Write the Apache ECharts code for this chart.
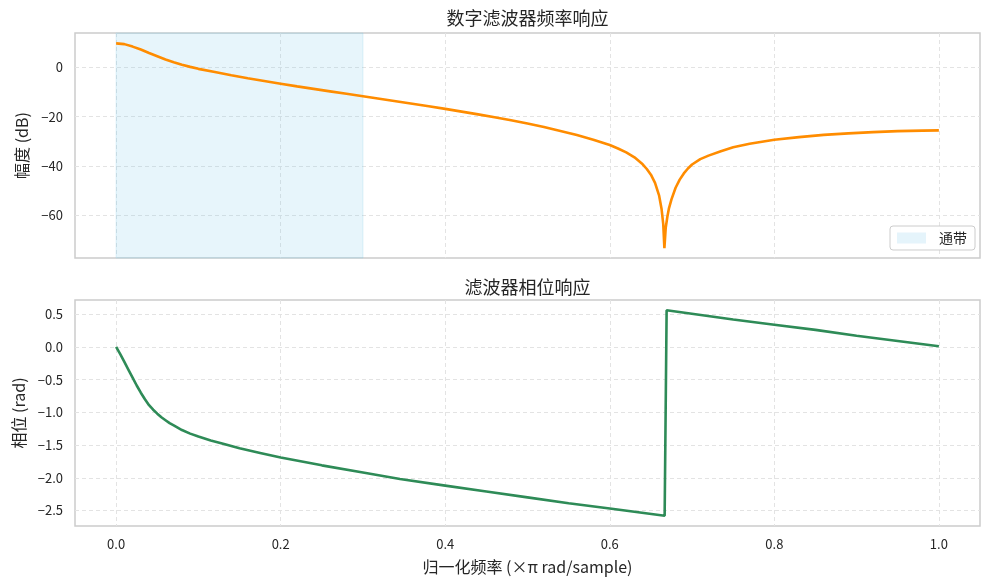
<!DOCTYPE html>
<html><head><meta charset="utf-8">
<script src="https://cdn.jsdelivr.net/npm/echarts@6/dist/echarts.min.js"></script>
<style>html,body{margin:0;padding:0;background:#fff}#c{width:991px;height:583px}</style>
</head><body><div id="c"></div>
<script>
const FONT = '"Noto Sans CJK SC", "DejaVu Sans", sans-serif';
const TXT = '#262626';

// normalized frequency (x pi rad/sample) and magnitude (dB)
const magFreq = [0, 0.01, 0.02, 0.03, 0.04, 0.05, 0.06, 0.07, 0.08, 0.09, 0.10, 0.12, 0.14, 0.16, 0.18, 0.20, 0.22, 0.24, 0.26, 0.28, 0.30, 0.32, 0.34, 0.36, 0.38, 0.40, 0.42, 0.44, 0.46, 0.48, 0.50, 0.52, 0.54, 0.56, 0.58, 0.60, 0.61, 0.62, 0.63, 0.64, 0.645, 0.65, 0.655, 0.66, 0.663, 0.665, 0.6664, 0.668, 0.670, 0.672, 0.675, 0.68, 0.685, 0.69, 0.695, 0.70, 0.71, 0.72, 0.735, 0.75, 0.77, 0.80, 0.83, 0.86, 0.89, 0.92, 0.95, 0.98, 1.0];
const magDb = [9.6, 9.3, 8.3, 7.1, 5.7, 4.4, 3.1, 2.0, 1.0, 0.1, -0.7, -2.0, -3.3, -4.5, -5.6, -6.7, -7.8, -8.8, -9.8, -10.8, -11.8, -12.8, -13.8, -14.8, -15.8, -16.9, -18.0, -19.1, -20.3, -21.5, -22.8, -24.2, -25.8, -27.5, -29.4, -31.5, -32.9, -34.5, -36.5, -39.3, -41.2, -43.5, -46.8, -52.0, -57.5, -63.5, -73.2, -65.0, -60.5, -57.0, -53.5, -48.8, -45.5, -43.0, -41.0, -39.4, -37.2, -35.8, -34.0, -32.4, -31.0, -29.4, -28.3, -27.4, -26.8, -26.3, -25.9, -25.7, -25.6];

// normalized frequency and phase (rad)
const phaseFreq = [0, 0.005, 0.01, 0.015, 0.02, 0.025, 0.03, 0.035, 0.04, 0.045, 0.05, 0.055, 0.06, 0.065, 0.07, 0.08, 0.09, 0.10, 0.115, 0.13, 0.15, 0.175, 0.20, 0.25, 0.30, 0.345, 0.40, 0.45, 0.50, 0.55, 0.60, 0.6667, 0.6691, 0.75, 0.80, 0.85, 0.90, 0.95, 1.0];
const phaseRad = [0, -0.11, -0.23, -0.35, -0.47, -0.59, -0.70, -0.80, -0.89, -0.96, -1.02, -1.075, -1.12, -1.165, -1.20, -1.27, -1.325, -1.37, -1.43, -1.48, -1.55, -1.62, -1.69, -1.81, -1.92, -2.02, -2.12, -2.21, -2.30, -2.39, -2.47, -2.58, 0.56, 0.42, 0.34, 0.26, 0.17, 0.09, 0.01];

const passband = [0, 0.3];
const xTicks = [0, 0.2, 0.4, 0.6, 0.8, 1.0];
const magTicks = [-60, -40, -20, 0];
const phaseTicks = [-2.5, -2.0, -1.5, -1.0, -0.5, 0.0, 0.5];
const titles = ['数字滤波器频率响应', '滤波器相位响应'];
const xName = '归一化频率 (×π rad/sample)';
const yNames = ['幅度 (dB)', '相位 (rad)'];
const legendName = '通带';

const zip = (a, b) => a.map((v, i) => [v, b[i]]);
const fmt = d => v => (v < 0 ? '\u2212' : '') + Math.abs(v).toFixed(d);

const gridLine = {show: true, lineStyle: {color: '#e3e3e3', width: 1, type: [4, 3]}};
const tickLabel = {color: TXT, fontSize: 13, fontFamily: FONT};

function xAxis(idx, showLabel) {
  return {
    type: 'value', gridIndex: idx, min: -0.05, max: 1.05,
    axisLine: {show: false},
    axisTick: {show: false, customValues: xTicks},
    axisLabel: Object.assign({show: showLabel, customValues: xTicks, formatter: fmt(1), margin: 12}, tickLabel),
    splitLine: gridLine,
    name: showLabel ? xName : '', nameLocation: 'middle', nameGap: 33,
    nameTextStyle: {color: TXT, fontSize: 16, fontFamily: FONT}
  };
}

const option = {
  animation: false,
  backgroundColor: '#ffffff',
  grid: [
    {left: 75, right: 11, top: 33, height: 225, show: true, borderColor: '#cccccc', borderWidth: 1.5, backgroundColor: 'transparent'},
    {left: 75, right: 11, top: 300, height: 226, show: true, borderColor: '#cccccc', borderWidth: 1.5, backgroundColor: 'transparent'}
  ],
  graphic: [
    {type: 'text', x: 527.5, y: 18, style: {text: titles[0], fontSize: 18, fontFamily: FONT, fill: TXT, align: 'center', verticalAlign: 'middle'}},
    {type: 'text', x: 527.5, y: 287, style: {text: titles[1], fontSize: 18, fontFamily: FONT, fill: TXT, align: 'center', verticalAlign: 'middle'}}
  ],
  legend: {
    data: [{name: legendName, icon: 'rect', itemStyle: {color: 'rgba(135,206,235,0.22)', borderWidth: 0}}],
    right: 16, top: 226, itemWidth: 29, itemHeight: 11,
    padding: [5, 8, 5, 7],
    borderColor: '#cccccc', borderWidth: 1, borderRadius: 3,
    backgroundColor: 'rgba(255,255,255,0.85)',
    selectedMode: false,
    textStyle: {color: TXT, fontSize: 14, fontFamily: FONT, padding: [0, 0, 0, 8]}
  },
  xAxis: [xAxis(0, false), xAxis(1, true)],
  yAxis: [
    {type: 'value', gridIndex: 0, min: -77.2, max: 13.8,
     axisLine: {show: false}, axisTick: {show: false, customValues: magTicks},
     axisLabel: Object.assign({customValues: magTicks, formatter: fmt(0), margin: 12}, tickLabel),
     splitLine: gridLine,
     name: yNames[0], nameLocation: 'middle', nameGap: 45,
     nameTextStyle: {color: TXT, fontSize: 16, fontFamily: FONT}},
    {type: 'value', gridIndex: 1, min: -2.737, max: 0.717,
     axisLine: {show: false}, axisTick: {show: false, customValues: phaseTicks},
     axisLabel: Object.assign({customValues: phaseTicks, formatter: fmt(1), margin: 12}, tickLabel),
     splitLine: gridLine,
     name: yNames[1], nameLocation: 'middle', nameGap: 47,
     nameTextStyle: {color: TXT, fontSize: 16, fontFamily: FONT}}
  ],
  series: [
    {name: legendName, type: 'line', xAxisIndex: 0, yAxisIndex: 0, data: [], silent: true,
     markArea: {silent: true,
       itemStyle: {color: 'rgba(135,206,235,0.2)', borderColor: 'rgba(135,206,235,0.25)', borderWidth: 1},
       data: [[{xAxis: passband[0]}, {xAxis: passband[1]}]]}},
    {name: '幅度', type: 'line', xAxisIndex: 0, yAxisIndex: 0, data: zip(magFreq, magDb),
     showSymbol: false, smooth: false, lineStyle: {color: '#ff8c00', width: 2.6}, itemStyle: {color: '#ff8c00'}, z: 3},
    {name: '相位', type: 'line', xAxisIndex: 1, yAxisIndex: 1, data: zip(phaseFreq, phaseRad),
     showSymbol: false, smooth: false, lineStyle: {color: '#2e8b57', width: 2.6}, itemStyle: {color: '#2e8b57'}, z: 3}
  ]
};
echarts.init(document.getElementById('c')).setOption(option);
</script></body></html>
